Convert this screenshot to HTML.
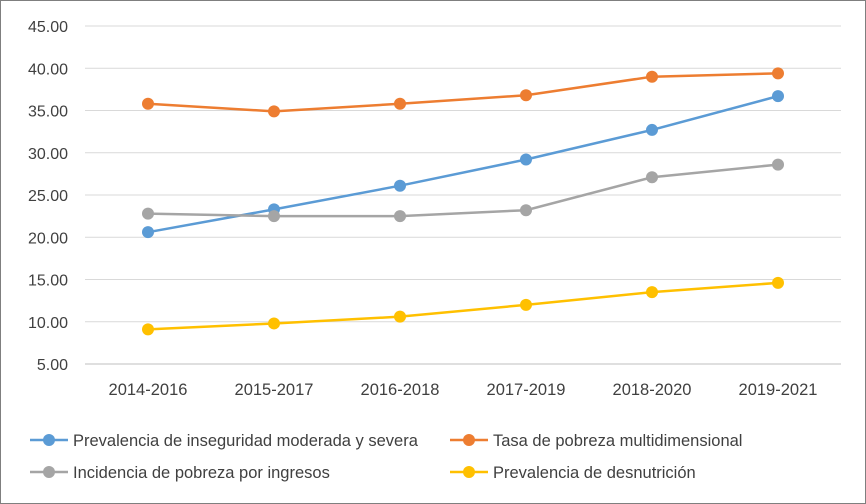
<!DOCTYPE html>
<html><head><meta charset="utf-8"><style>
body{margin:0;background:#fff;}
svg{display:block;font-family:"Liberation Sans",sans-serif;}
</style></head><body>
<svg id="chart" width="866" height="504">
<rect x="0.5" y="0.5" width="865" height="503" fill="#fff" stroke="#7f7f7f"/>
<g id="grid"></g><g id="series"></g><g id="legend"></g>
</svg>
<script>
const categories=["2014-2016","2015-2017","2016-2018","2017-2019","2018-2020","2019-2021"];
const seriesNames=["Prevalencia de inseguridad moderada y severa","Tasa de pobreza multidimensional","Incidencia de pobreza por ingresos","Prevalencia de desnutrición"];
const inseguridad=[20.6,23.3,26.1,29.2,32.7,36.7];
const pobrezaMulti=[35.8,34.9,35.8,36.8,39.0,39.4];
const pobrezaIngresos=[22.8,22.5,22.5,23.2,27.1,28.6];
const desnutricion=[9.1,9.8,10.6,12.0,13.5,14.6];
const yTicks=[5,10,15,20,25,30,35,40,45];
const colors=["#5B9BD5","#ED7D31","#A5A5A5","#FFC000"];
const NS="http://www.w3.org/2000/svg";
function mk(t,a,p){const e=document.createElementNS(NS,t);for(const k in a)e.setAttribute(k,a[k]);p.appendChild(e);return e;}
const x0=85,x1=841,yMin=5,yMax=45,yb=364,yt=26;
const step=(x1-x0)/categories.length;
const xs=i=>x0+step*(i+0.5);
const ys=v=>yb-(v-yMin)/(yMax-yMin)*(yb-yt);
const grid=document.getElementById('grid');
yTicks.forEach(v=>{
 const l=mk('line',{x1:x0,x2:x1,y1:ys(v),y2:ys(v),stroke:v===yMin?'#bfbfbf':'#d9d9d9','stroke-width':1},grid);
 
 
 const t=mk('text',{x:68,y:ys(v)+6,'text-anchor':'end','font-size':16,fill:'#404040'},grid);
 t.textContent=v.toFixed(2);
 
 
});
categories.forEach((c,i)=>{
 const t=mk('text',{x:xs(i),y:395,'text-anchor':'middle','font-size':16.5,fill:'#404040'},grid);
 t.textContent=c;
 
 
});
const data=[inseguridad,pobrezaMulti,pobrezaIngresos,desnutricion];
const sg=document.getElementById('series');
data.forEach((d,s)=>{
 const g=mk('g',{},sg);
 
 
 const p=mk('polyline',{points:d.map((v,i)=>xs(i)+','+ys(v)).join(' '),fill:'none',stroke:colors[s],'stroke-width':2.5},g);
 
 
 d.forEach((v,i)=>{
  const c=mk('circle',{cx:xs(i),cy:ys(v),r:6,fill:colors[s]},g);
  
  
 });
});
const lg=document.getElementById('legend');
const lpos=[[30,440],[450,440],[30,472],[450,472]];
seriesNames.forEach((n,s)=>{
 const [lx,ly]=lpos[s];
 const g=mk('g',{},lg);
 
 
 mk('line',{x1:lx,x2:lx+38,y1:ly,y2:ly,stroke:colors[s],'stroke-width':2.5},g);
 mk('circle',{cx:lx+19,cy:ly,r:6,fill:colors[s]},g);
 const t=mk('text',{x:lx+43,y:ly+6,'font-size':16.5,fill:'#404040'},g);
 t.textContent=n;
});
</script>
</body></html>
